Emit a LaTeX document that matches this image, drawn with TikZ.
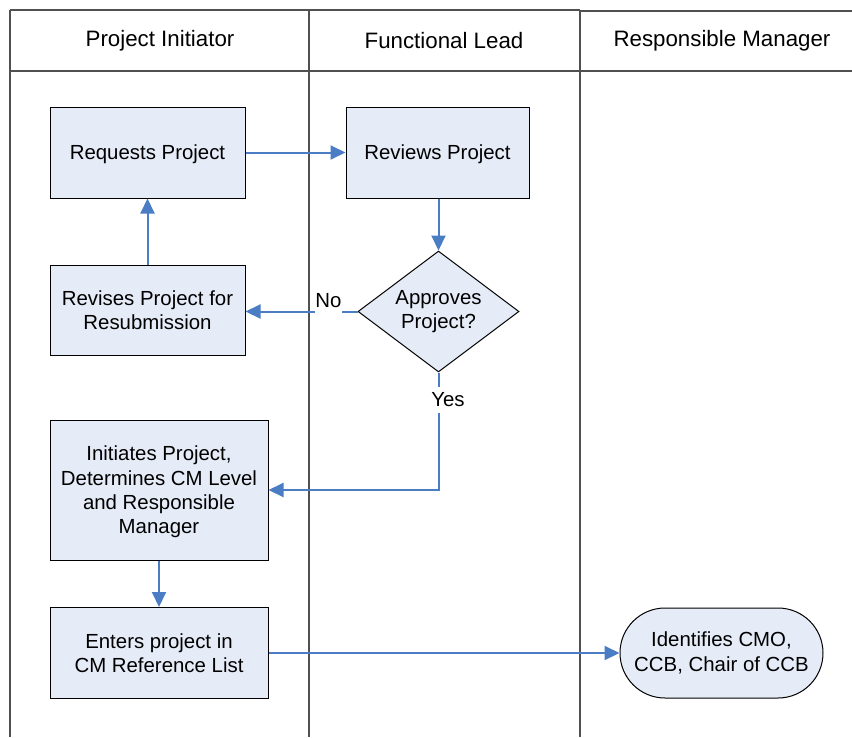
\documentclass[tikz,border=0pt]{standalone}
\usepackage{fontspec}
\setmainfont{Liberation Sans}
\usetikzlibrary{shapes.geometric,arrows.meta}
\definecolor{boxfill}{RGB}{230,236,247}
\definecolor{arrowblue}{RGB}{74,125,196}
\definecolor{laneline}{RGB}{80,80,80}
\tikzset{
  lane/.style={draw=laneline,line width=1.2pt},
  hdr/.style={font=\fontsize{22.3}{26}\selectfont,inner sep=0pt},
  procbox/.style={draw=black,line width=1pt,fill=boxfill,align=center,
    font=\fontsize{20.4}{24.3}\selectfont,inner sep=0pt,text depth=0pt},
  decbox/.style={diamond,draw=black,line width=1pt,fill=boxfill,align=center,
    font=\fontsize{20.4}{24.3}\selectfont,inner sep=0pt,aspect=1.33,
    minimum width=161pt,minimum height=121pt},
  termbox/.style={draw=black,line width=1pt,fill=boxfill,align=center,
    font=\fontsize{20.4}{24.3}\selectfont,inner sep=0pt,rounded corners=45pt,
    minimum width=203pt,minimum height=90pt},
  flow/.style={draw=arrowblue,line width=2pt},
  flowarrow/.style={flow,-{Triangle[length=15pt,width=14pt]}},
  lbl/.style={font=\fontsize{20.4}{24.3}\selectfont,inner sep=0pt}
}
\begin{document}
\begin{tikzpicture}[x=1pt,y=-1pt]
\useasboundingbox (0,0) rectangle (852,737);
% swimlane frame
\draw[lane] (10,10) -- (580,10);
\draw[lane] (580,11) -- (852,11);
\draw[lane] (10,71) -- (852,71);
\draw[lane] (10,10) -- (10,737);
\draw[lane] (309,10) -- (309,737);
\draw[lane] (580,10) -- (580,737);
% headers
\node[hdr] (h1) at (160,41) {Project Initiator};
\node[hdr] (h2) at (444,41) {Functional Lead};
\node[hdr] (h3) at (722,41) {Responsible Manager};
% nodes
\node[procbox,minimum width=195pt,minimum height=91pt] (req) at (147.5,152.5) {Requests Project};
\node[procbox,minimum width=183pt,minimum height=91pt] (rev) at (437.5,152.5) {Reviews Project};
\node[decbox] (dec) at (438.5,311.5) {Approves\\Project?};
\node[procbox,minimum width=195pt,minimum height=90pt] (resub) at (147.5,310) {Revises Project for\\Resubmission};
\node[procbox,minimum width=218pt,minimum height=140pt] (init) at (159,490) {Initiates Project,\\Determines CM Level\\and Responsible\\Manager};
\node[procbox,minimum width=218pt,minimum height=91pt] (enter) at (159,653) {Enters project in\\CM Reference List};
\node[termbox] (ident) at (721.5,653) {Identifies CMO,\\CCB, Chair of CCB};
% labels
\node[lbl,minimum width=27pt] (no) at (328.5,301) {No};
\node[lbl,minimum height=25pt] (yes) at (448,400) {Yes};
\coordinate (bend) at (dec.south |- init.east);
% connectors
\draw[flowarrow] (req.east) -- (rev.west);
\draw[flowarrow] (rev.south -| dec.north) -- (dec.north);
\draw[flow] (dec.west) -- (dec.west -| no.east);
\draw[flowarrow] (dec.west -| no.west) -- (resub.east |- dec.west);
\draw[flow] (dec.south) -- (dec.south |- yes.north);
\draw[flowarrow] (dec.south |- yes.south) -- (bend) -- (init.east);
\draw[flowarrow] (resub.north) -- (req.south);
\draw[flowarrow] (init.south) -- (enter.north);
\draw[flowarrow] (enter.east) -- (ident.west);
\end{tikzpicture}
\end{document}
